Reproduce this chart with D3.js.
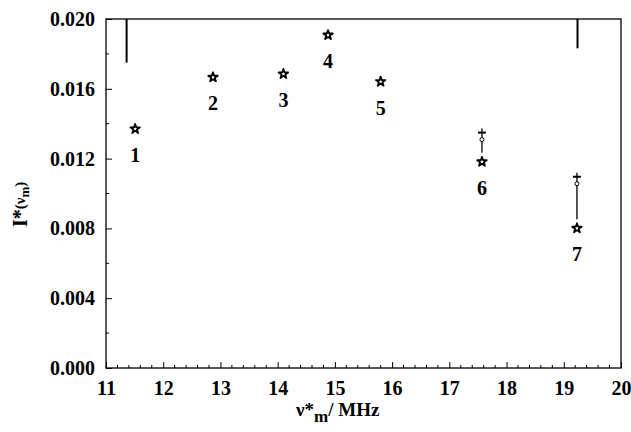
<!DOCTYPE html>
<html><head><meta charset="utf-8">
<script src="https://cdn.jsdelivr.net/npm/d3@7"></script>
<style>
body{margin:0;background:#fff;}
</style></head>
<body><svg id="c" width="631" height="432"></svg>
<script>
// Data
const labels = ["1","2","3","4","5","6","7"];
const freq = [11.51, 12.87, 14.10, 14.88, 15.80, 17.57, 19.23];
const intensity = [0.01370, 0.01666, 0.01685, 0.01908, 0.01641, 0.01182, 0.00801];
const upperFreq = [17.57, 19.23];
const upperIntensity = [0.01349, 0.01096];
const markerFreq = [11.36, 19.24];
const markerLow = [0.01750, 0.01832];
const xTicks = [11,12,13,14,15,16,17,18,19,20];
const yTicks = [0.000,0.004,0.008,0.012,0.016,0.020];

const FONT = "'Liberation Serif','Times New Roman',serif";
const svg = d3.select("#c");
const L=106, R=621, T=19, B=368;
const x = d3.scaleLinear().domain([11,20]).range([L,R]);
const y = d3.scaleLinear().domain([0,0.020]).range([B,T]);

// frame
svg.append("rect").attr("x",L).attr("y",T).attr("width",R-L).attr("height",B-T)
  .attr("fill","none").attr("stroke","#000").attr("stroke-width",1.3);

// x axis
const xAxis = d3.axisBottom(x).tickValues(xTicks).tickFormat(d3.format("d")).tickSize(-6).tickPadding(13);
const gx = svg.append("g").attr("transform",`translate(0,${B})`).call(xAxis);
const xMinor = d3.range(11,20.001,0.2).filter(v=>Math.abs(v-Math.round(v))>0.01);
gx.selectAll(".minor").data(xMinor).enter().append("line").attr("class","minor")
  .attr("x1",d=>x(d)).attr("x2",d=>x(d)).attr("y1",0).attr("y2",-3);
// y axis
const yAxis = d3.axisLeft(y).tickValues(yTicks).tickFormat(d3.format(".3f")).tickSize(-6).tickPadding(11);
const gy = svg.append("g").attr("transform",`translate(${L},0)`).call(yAxis);
const yMinor = [0.002,0.006,0.010,0.014,0.018];
gy.selectAll(".minor").data(yMinor).enter().append("line").attr("class","minor")
  .attr("y1",d=>y(d)).attr("y2",d=>y(d)).attr("x1",0).attr("x2",3);
[gx,gy].forEach(g=>{
  g.attr("font-family",FONT).attr("font-size",20);
  g.select(".domain").remove();
  g.selectAll("line").attr("stroke","#000").attr("stroke-width",1);
  g.selectAll("text").attr("font-weight","bold").attr("fill","#000").style("font-family",FONT);
});

// vertical markers
svg.selectAll(".marker").data(markerFreq).enter().append("line")
  .attr("x1",d=>x(d)).attr("x2",d=>x(d)).attr("y1",T).attr("y2",(d,i)=>y(markerLow[i]))
  .attr("stroke","#000").attr("stroke-width",2);

// dagger connectors
upperFreq.forEach((f,i)=>{
  const xc=x(f), yu=y(upperIntensity[i]), ys=y(intensity[5+i]);
  svg.append("line").attr("x1",xc).attr("x2",xc).attr("y1",yu-4).attr("y2",ys-9)
    .attr("stroke","#000").attr("stroke-width",1.3);
  svg.append("line").attr("x1",xc-4).attr("x2",xc+4).attr("y1",yu).attr("y2",yu)
    .attr("stroke","#000").attr("stroke-width",2);
  svg.append("circle").attr("cx",xc).attr("cy",yu+7).attr("r",2)
    .attr("fill","#fff").attr("stroke","#000").attr("stroke-width",1);
});

// stars
const star = d3.symbol().type(d3.symbolStar).size(28);
svg.selectAll(".pt").data(freq).enter().append("path")
  .attr("d",star).attr("transform",(d,i)=>`translate(${x(d)},${y(intensity[i])})`)
  .attr("fill","#fff").attr("stroke","#000").attr("stroke-width",1.8).attr("stroke-linejoin","round");

// point labels
svg.selectAll(".lbl").data(labels).enter().append("text")
  .attr("x",(d,i)=>x(freq[i])).attr("y",(d,i)=>y(intensity[i])+33)
  .attr("text-anchor","middle").style("font-family",FONT).attr("font-weight","bold")
  .attr("font-size",20).text(d=>d);

// axis titles
const xt = svg.append("text").attr("x",296).attr("y",416).attr("font-size",19)
  .style("font-family",FONT).attr("font-weight","bold");
xt.append("tspan").text("ν*");
xt.append("tspan").attr("font-size",17).attr("dy",6).text("m");
xt.append("tspan").attr("dy",-6).text("/ MHz");

const yt = svg.append("text").attr("transform","translate(27,227) rotate(-90)").attr("font-size",20)
  .style("font-family",FONT).attr("font-weight","bold");
yt.append("tspan").text("I*");
yt.append("tspan").attr("font-size",15).attr("dy",-2).text("(ν");
yt.append("tspan").attr("font-size",13).attr("dy",4).text("m");
yt.append("tspan").attr("font-size",15).attr("dy",-4).text(")");
</script></body></html>
